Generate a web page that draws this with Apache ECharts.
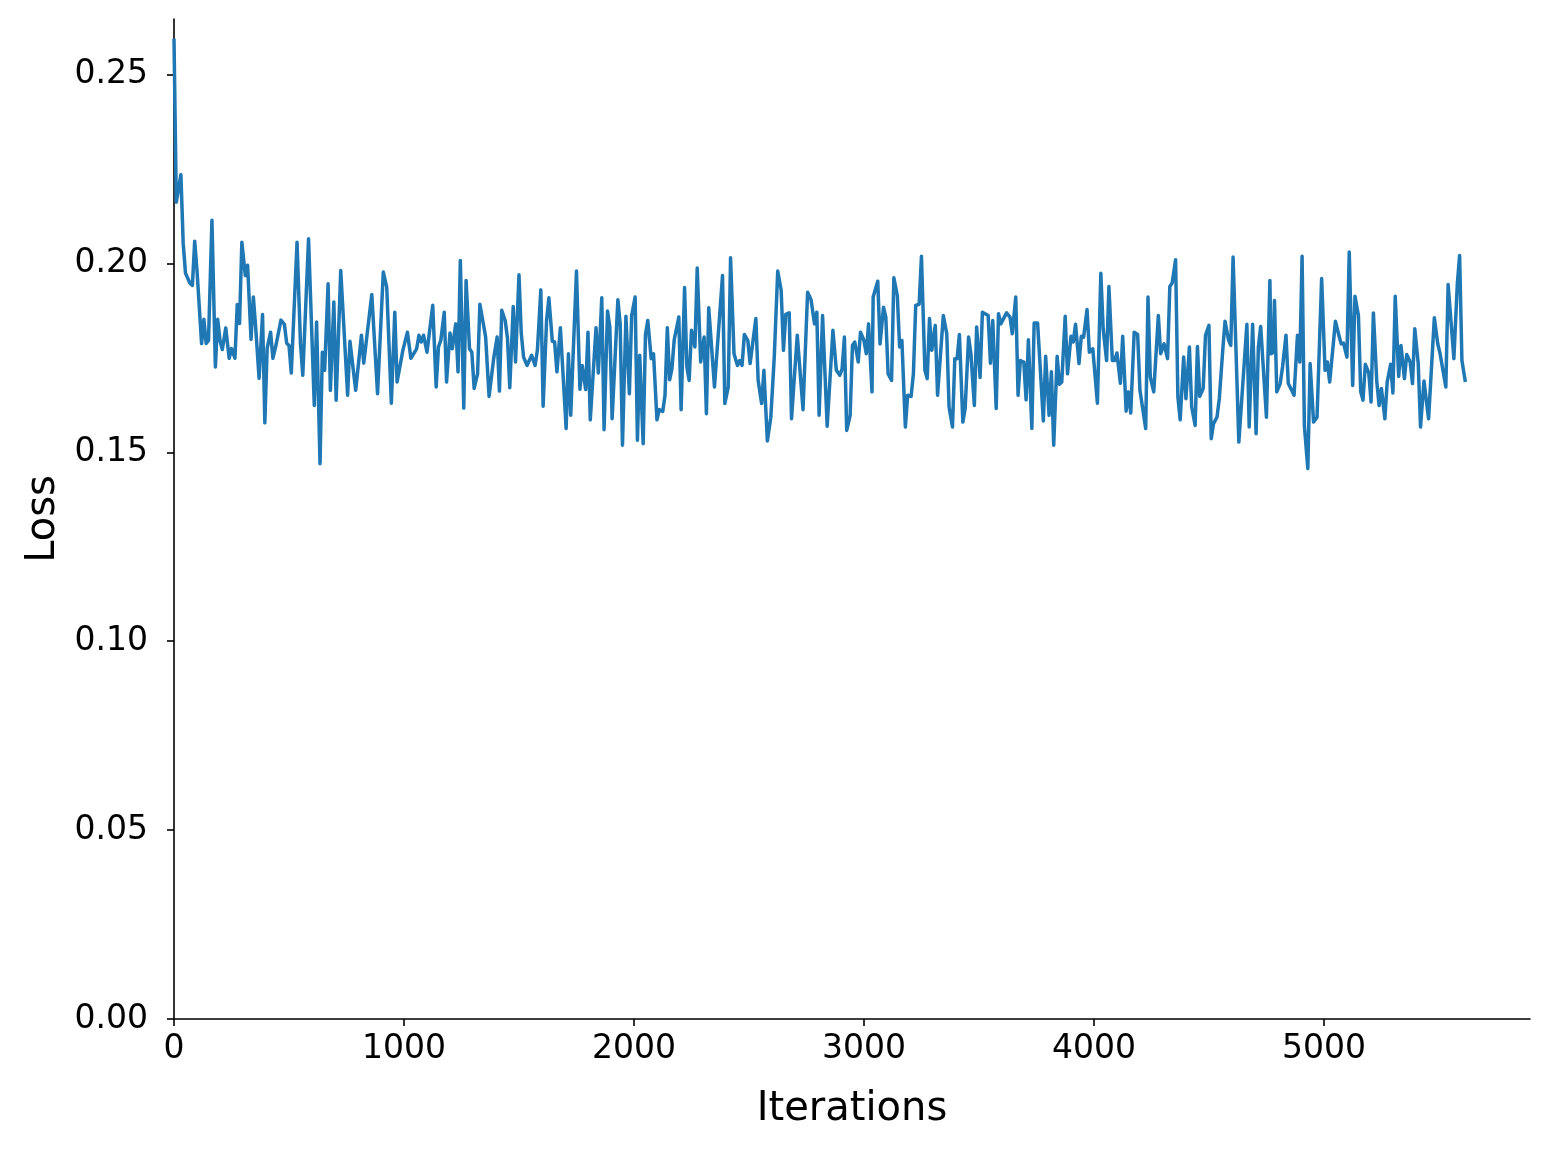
<!DOCTYPE html>
<html>
<head>
<meta charset="utf-8">
<script src="https://cdn.jsdelivr.net/npm/echarts@6/dist/echarts.min.js"></script>
<style>
html,body{margin:0;padding:0;background:#fff;}
#chart{width:1550px;height:1150px;}
</style>
</head>
<body>
<div id="chart"></div>
<script>
const iterations = [0,10,30,40,50,70,80,90,100,120,130,140,150,165,180,190,200,210,225,240,250,265,275,285,295,310,320,335,345,355,370,385,395,405,420,430,445,465,480,490,500,510,535,550,560,585,610,620,635,645,655,670,680,695,705,725,755,765,790,815,825,860,885,910,925,945,960,970,995,1015,1030,1055,1065,1075,1085,1100,1125,1140,1150,1160,1175,1185,1200,1210,1225,1235,1245,1260,1270,1285,1295,1305,1320,1330,1350,1355,1370,1390,1405,1415,1425,1440,1450,1460,1475,1485,1500,1510,1520,1535,1555,1570,1580,1595,1605,1620,1630,1645,1655,1665,1680,1705,1715,1725,1750,1765,1775,1790,1800,1810,1835,1845,1860,1870,1885,1895,1905,1930,1940,1950,1965,1980,1990,2005,2015,2025,2040,2050,2060,2075,2085,2100,2110,2125,2135,2145,2155,2165,2175,2195,2205,2220,2230,2240,2250,2265,2275,2290,2305,2315,2325,2350,2385,2395,2410,2420,2435,2450,2460,2470,2480,2495,2505,2515,2530,2540,2555,2565,2580,2595,2610,2625,2640,2650,2660,2675,2685,2710,2735,2755,2770,2785,2795,2805,2820,2840,2865,2880,2895,2905,2915,2925,2940,2950,2960,2975,2985,3000,3010,3020,3035,3040,3060,3070,3085,3095,3105,3120,3130,3145,3155,3165,3180,3190,3205,3215,3225,3240,3250,3265,3275,3285,3295,3310,3320,3345,3360,3370,3385,3395,3405,3415,3430,3440,3455,3465,3480,3490,3505,3515,3540,3550,3560,3575,3585,3595,3620,3635,3645,3660,3670,3680,3695,3705,3715,3730,3740,3755,3780,3790,3805,3815,3825,3840,3850,3860,3875,3885,3900,3910,3920,3935,3945,3955,3970,3980,3995,4015,4030,4040,4055,4065,4080,4090,4100,4115,4125,4140,4150,4160,4175,4190,4200,4225,4235,4245,4260,4280,4290,4305,4320,4330,4340,4355,4365,4375,4390,4400,4415,4425,4440,4450,4460,4475,4485,4500,4510,4520,4535,4545,4560,4570,4585,4595,4605,4630,4665,4675,4690,4705,4715,4725,4750,4765,4770,4780,4785,4795,4810,4820,4835,4845,4860,4870,4885,4895,4905,4915,4930,4940,4955,4970,4990,5005,5015,5025,5050,5065,5075,5085,5100,5110,5125,5135,5150,5160,5170,5180,5195,5205,5215,5230,5240,5250,5265,5275,5290,5300,5310,5325,5335,5350,5360,5375,5385,5395,5410,5420,5435,5455,5480,5495,5505,5530,5540,5565,5580,5590,5600,5615];
const loss = [0.2595,0.2162,0.2235,0.2053,0.1974,0.1947,0.1942,0.2059,0.1981,0.1788,0.1852,0.1788,0.1796,0.2114,0.1726,0.1852,0.1796,0.1772,0.1829,0.1749,0.1775,0.1749,0.1891,0.1841,0.2056,0.1968,0.1995,0.1799,0.1911,0.1832,0.1696,0.1865,0.1578,0.1775,0.1818,0.1749,0.1788,0.1850,0.1839,0.1789,0.1783,0.1710,0.2056,0.1787,0.1704,0.2065,0.1624,0.1845,0.1470,0.1765,0.1717,0.1946,0.1664,0.1898,0.1638,0.1981,0.1651,0.1794,0.1664,0.1810,0.1736,0.1918,0.1655,0.1977,0.1937,0.1630,0.1871,0.1686,0.1770,0.1818,0.1749,0.1774,0.1810,0.1792,0.1810,0.1765,0.1889,0.1673,0.1779,0.1796,0.1871,0.1686,0.1816,0.1774,0.1840,0.1713,0.2008,0.1617,0.1955,0.1774,0.1765,0.1669,0.1708,0.1892,0.1823,0.1805,0.1648,0.1748,0.1805,0.1662,0.1876,0.1849,0.1802,0.1671,0.1886,0.1739,0.1970,0.1814,0.1752,0.1730,0.1757,0.1730,0.1770,0.1930,0.1622,0.1849,0.1909,0.1794,0.1792,0.1713,0.1830,0.1563,0.1761,0.1598,0.1980,0.1667,0.1730,0.1666,0.1818,0.1586,0.1830,0.1710,0.1909,0.1560,0.1874,0.1832,0.1589,0.1904,0.1840,0.1519,0.1860,0.1655,0.1862,0.1911,0.1532,0.1757,0.1523,0.1812,0.1849,0.1748,0.1761,0.1586,0.1613,0.1608,0.1651,0.1830,0.1692,0.1721,0.1798,0.1858,0.1613,0.1936,0.1726,0.1690,0.1823,0.1779,0.1988,0.1739,0.1805,0.1602,0.1883,0.1673,0.1968,0.1629,0.1673,0.2015,0.1761,0.1730,0.1743,0.1730,0.1812,0.1796,0.1735,0.1783,0.1854,0.1690,0.1629,0.1717,0.1530,0.1593,0.1752,0.1980,0.1929,0.1770,0.1865,0.1869,0.1589,0.1810,0.1613,0.1924,0.1904,0.1840,0.1871,0.1598,0.1862,0.1569,0.1823,0.1717,0.1704,0.1721,0.1805,0.1558,0.1598,0.1783,0.1792,0.1739,0.1818,0.1796,0.1761,0.1840,0.1660,0.1911,0.1953,0.1787,0.1884,0.1858,0.1708,0.1690,0.1962,0.1915,0.1779,0.1796,0.1567,0.1651,0.1648,0.1708,0.1889,0.1892,0.2019,0.1717,0.1695,0.1854,0.1770,0.1836,0.1651,0.1862,0.1814,0.1620,0.1567,0.1748,0.1748,0.1812,0.1580,0.1616,0.1805,0.1761,0.1624,0.1832,0.1698,0.1871,0.1862,0.1736,0.1849,0.1616,0.1867,0.1840,0.1869,0.1858,0.1814,0.1911,0.1651,0.1743,0.1739,0.1639,0.1798,0.1563,0.1842,0.1842,0.1583,0.1754,0.1598,0.1713,0.1519,0.1754,0.1680,0.1686,0.1860,0.1708,0.1807,0.1792,0.1839,0.1735,0.1807,0.1805,0.1878,0.1765,0.1774,0.1630,0.1974,0.1827,0.1743,0.1939,0.1743,0.1743,0.1763,0.1683,0.1807,0.1609,0.1660,0.1604,0.1818,0.1812,0.1664,0.1563,0.1911,0.1699,0.1660,0.1862,0.1761,0.1787,0.1748,0.1939,0.1948,0.2010,0.1646,0.1586,0.1752,0.1642,0.1779,0.1620,0.1571,0.1780,0.1648,0.1669,0.1810,0.1836,0.1536,0.1576,0.1593,0.1642,0.1770,0.1847,0.1798,0.1783,0.2017,0.1527,0.1839,0.1567,0.1839,0.1549,0.1779,0.1833,0.1593,0.1955,0.1761,0.1765,0.1902,0.1660,0.1682,0.1726,0.1810,0.1682,0.1664,0.1651,0.1810,0.1739,0.2019,0.1571,0.1457,0.1735,0.1580,0.1593,0.1960,0.1717,0.1739,0.1686,0.1847,0.1810,0.1787,0.1789,0.1752,0.2030,0.1677,0.1913,0.1862,0.1660,0.1638,0.1733,0.1710,0.1633,0.1869,0.1686,0.1624,0.1669,0.1589,0.1686,0.1733,0.1657,0.1913,0.1701,0.1783,0.1695,0.1759,0.1739,0.1682,0.1827,0.1735,0.1567,0.1689,0.1589,0.1856,0.1787,0.1761,0.1673,0.1944,0.1748,0.1946,0.2021,0.1743,0.1686];
const xTicks = [0,1000,2000,3000,4000,5000];
const yTicks = [0,0.05,0.10,0.15,0.20,0.25];

const chart = echarts.init(document.getElementById('chart'), null, {renderer:'canvas'});
const FONT = 'DejaVu Sans';
chart.setOption({
  animation:false,
  backgroundColor:'#ffffff',
  grid:{left:174,right:20,top:19,bottom:131,containLabel:false},
  xAxis:{
    type:'value', min:0, max:5896,
    name:'Iterations', nameLocation:'middle', nameGap:71,
    nameTextStyle:{fontFamily:FONT,fontSize:40,color:'#000'},
    axisLine:{show:true,onZero:false,lineStyle:{color:'#000',width:1.6}},
    axisTick:{show:true,length:7,lineStyle:{color:'#000',width:1.6},customValues:xTicks},
    axisLabel:{fontFamily:FONT,fontSize:33,color:'#000',margin:14,customValues:xTicks,
      formatter:function(v){return String(v);}},
    splitLine:{show:false}
  },
  yAxis:{
    type:'value', min:0, max:0.2647,
    name:'Loss', nameLocation:'middle', nameGap:106,
    nameTextStyle:{fontFamily:FONT,fontSize:40,color:'#000'},
    axisLine:{show:true,onZero:false,lineStyle:{color:'#000',width:1.6}},
    axisTick:{show:true,length:7,lineStyle:{color:'#000',width:1.6},customValues:yTicks},
    axisLabel:{fontFamily:FONT,fontSize:33,color:'#000',margin:26,customValues:yTicks,
      formatter:function(v){return v.toFixed(2);}},
    splitLine:{show:false}
  },
  series:[{
    type:'line',
    data:iterations.map((x,i)=>[x,loss[i]]),
    showSymbol:false,
    symbol:'none',
    sampling:null,
    lineStyle:{color:'#1f77b4',width:3.5,join:'round'},
    itemStyle:{color:'#1f77b4'}
  }]
});
</script>
</body>
</html>
